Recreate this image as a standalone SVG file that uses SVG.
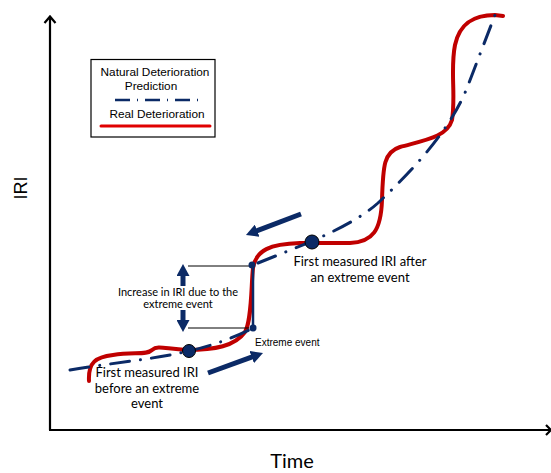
<svg xmlns="http://www.w3.org/2000/svg" width="551" height="473" viewBox="0 0 551 473">
<style>
.ax{stroke:#000;stroke-width:2.2;fill:none}
.thin{stroke:#000;stroke-width:1;fill:none}
.red{stroke:#c00000;stroke-width:4;fill:none;stroke-linecap:round}
.dd{stroke:#0b2a66;stroke-width:3;fill:none;stroke-linecap:round;stroke-dasharray:19 11 0.1 11}
.solid{stroke:#0b2a66;stroke-width:2.5;fill:none}
.arr{stroke:#0b2a66;stroke-width:5;fill:none;marker-end:url(#ah)}
.cal{font-family:Lato,"Open Sans",sans-serif;fill:#000}
.ari{font-family:"Liberation Sans",Arial,sans-serif;fill:#000}
</style>
<defs>
<marker id="ah" markerUnits="userSpaceOnUse" markerWidth="12" markerHeight="13" viewBox="0 0 12 13" refX="2" refY="6.5" orient="auto">
<path d="M0,0 L12,6.5 L0,13 z" fill="#0b2a66"/>
</marker>
</defs>
<g id="axes">
<path class="ax" d="M50,430 V17 M44.5,23 L50,16.5 L55.5,23"/>
<path class="ax" d="M49,430 H550 M546,425 L551,430 L546,435"/>
<text class="ari" x="0" y="0" font-size="18" text-anchor="middle" transform="translate(27,188) rotate(-90)">IRI</text>
<text class="cal" x="292" y="468" font-size="20" text-anchor="middle">Time</text>
</g>
<g id="legend">
<rect x="91" y="59.5" width="124" height="77.5" fill="#fff" stroke="#000" stroke-width="1.2"/>
<text class="ari" x="155" y="76" font-size="11.8" text-anchor="middle">Natural Deterioration</text>
<text class="ari" x="151" y="90" font-size="11.8" text-anchor="middle">Prediction</text>
<line x1="115" y1="100" x2="200" y2="100" stroke="#0b2a66" stroke-width="2.5" stroke-dasharray="15 7 1 7"/>
<text class="ari" x="157" y="118" font-size="11.8" text-anchor="middle">Real Deterioration</text>
<line x1="101" y1="126" x2="210" y2="126" stroke="#e00000" stroke-width="3" stroke-linecap="round"/>
</g>
<g id="connectors">
<path id="real" class="red" d="M89,381 C88,362 96,357 113,355 C135,352 147,355 152,350 C158,345 165,349 187,350 C215,350 235,346 245,332 C252,320 251,285 253,268 C256,250 270,244 300,243 L350,243 C373,242 381,230 382,200 C383,165 384,152 400,147 C425,140 447,137 452,120 C456,95 450,70 455,45 C460,22 475,15 495,15 L503,16"/>
<path id="pred-low" class="dd" d="M70,370 C110,363 150,360 189,351 C215,345 235,337 253,328"/>
<path id="pred-step" class="solid" d="M253,328 V265"/>
<path id="pred-high" class="dd" d="M258,263 C300,246 350,228 378,203 C415,168 450,130 467,88 L495,15"/>
<line class="thin" x1="188" y1="266" x2="252" y2="266"/>
<line class="thin" x1="188" y1="328" x2="249" y2="328"/>
<path class="arr" d="M301,214 L255.3,231.4"/>
<path class="arr" d="M208,373 L253.6,356.4"/>
<path class="arr" d="M183,286 V274"/>
<path class="arr" d="M183,310 V322"/>
</g>
<g id="node-before">
<circle cx="189" cy="351" r="6.5" fill="#0b2a66" stroke="#000" stroke-width="1"/>
</g>
<g id="node-after">
<circle cx="312" cy="242" r="7" fill="#0b2a66" stroke="#000" stroke-width="1"/>
</g>
<g id="node-step-bottom"><circle cx="253" cy="328" r="3.5" fill="#0b2a66"/></g>
<g id="node-step-top"><circle cx="252" cy="265" r="3.5" fill="#0b2a66"/></g>
<g id="labels">
<text class="cal" x="178" y="296" font-size="11" text-anchor="middle">Increase in IRI due to the</text>
<text class="cal" x="178" y="308" font-size="11" text-anchor="middle">extreme event</text>
<text class="ari" x="255" y="346" font-size="10">Extreme event</text>
<text class="cal" text-anchor="middle" font-size="13"><tspan x="147" y="377">First measured IRI</tspan><tspan x="147" y="393">before an extreme</tspan><tspan x="147" y="408">event</tspan></text>
<text class="cal" text-anchor="middle" font-size="13"><tspan x="360" y="266">First measured IRI after</tspan><tspan x="360" y="282">an extreme event</tspan></text>
</g>
</svg>
